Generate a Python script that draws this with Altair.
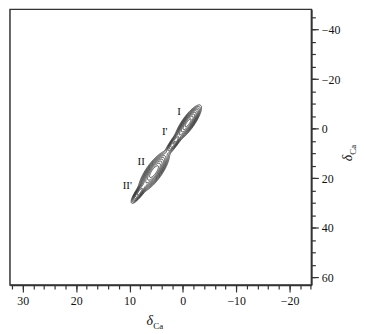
import numpy as np
import pandas as pd
import altair as alt

# ---- data -------------------------------------------------------------
# ridge end points of the diagonal cross-peak chain (data units)
ridge_x = [9.7, -3.2]
ridge_y = [30.4, -9.2]

# peaks of the contour map
peak_names = ["II'", "II", "I'", "I"]
peak_x = [8.2, 5.4, 1.7, -1.0]
peak_y = [25.8, 17.3, 5.8, -2.4]
peak_amp = [0.5, 1.0, 0.45, 0.9]
peak_sig_along = [6.0, 10.0, 6.0, 9.0]
peak_sig_across = [1.7, 3.3, 1.8, 2.6]
contour_levels = [0.05, 0.08, 0.12, 0.17, 0.24, 0.33, 0.45, 0.6, 0.78]

# peak labels
label_text = ["I", "I'", "II", "II'"]
label_x = [0.7, 3.4, 7.8, 10.4]
label_y = [-6.8, 1.2, 13.6, 23.2]

# axes
x_domain = [-24.1, 32.4]
y_domain = [-48.2, 63.1]
x_major = [30, 20, 10, 0, -10, -20]
x_minor = list(range(-24, 33, 2))
y_major = [-40, -20, 0, 20, 40, 60]
y_minor = list(range(-45, 64, 5))

W, H = 304, 278
KX = W / (x_domain[1] - x_domain[0])
KY = H / (y_domain[1] - y_domain[0])

# ---- contour field ------------------------------------------------------
dXr = -(ridge_x[1] - ridge_x[0]) * KX
dYr = (ridge_y[1] - ridge_y[0]) * KY
L = np.hypot(dXr, dYr)
ux, uy = dXr / L, dYr / L
nx_, ny_ = -uy, ux

xs = np.linspace(-6, 13, 200)
ys = np.linspace(-14, 36, 260)
XX, YY = np.meshgrid(xs, ys)
Z = np.zeros_like(XX)
for cx, cy, a, sa, sc in zip(peak_x, peak_y, peak_amp, peak_sig_along, peak_sig_across):
    dX = -(XX - cx) * KX
    dY = (YY - cy) * KY
    t = dX * ux + dY * uy
    s = dX * nx_ + dY * ny_
    Z += a * np.exp(-0.5 * ((t / sa) ** 2 + (s / sc) ** 2))

rows = []
for li, lev in enumerate(contour_levels):
    B = Z >= lev
    c = B[:-1, :-1].astype(int) + B[:-1, 1:] + B[1:, :-1] + B[1:, 1:]
    for i, j in np.argwhere((c > 0) & (c < 4)):
        corners = [(xs[j], ys[i], Z[i, j]), (xs[j + 1], ys[i], Z[i, j + 1]),
                   (xs[j + 1], ys[i + 1], Z[i + 1, j + 1]), (xs[j], ys[i + 1], Z[i + 1, j])]
        pts = []
        for k in range(4):
            xa, ya, za = corners[k]
            xb, yb, zb = corners[(k + 1) % 4]
            if (za >= lev) != (zb >= lev):
                f = (lev - za) / (zb - za)
                pts.append((xa + f * (xb - xa), ya + f * (yb - ya)))
        for p in range(0, len(pts) - 1, 2):
            rows.append(dict(x=pts[p][0], y=pts[p][1], x2=pts[p + 1][0], y2=pts[p + 1][1], level=li))
seg = pd.DataFrame(rows)

lab = pd.DataFrame({"t": label_text, "x": label_x, "y": label_y})

SERIF = "Liberation Serif, Times New Roman, Times, serif"
xscale = alt.Scale(domain=x_domain, reverse=True, nice=False, zero=False)
yscale = alt.Scale(domain=y_domain, reverse=True, nice=False, zero=False)

x_main_axis = alt.Axis(orient="bottom", values=x_major, tickSize=7, tickWidth=1.2, tickColor="#333",
                       domainColor="#333", domainWidth=1.5, labelFont=SERIF, labelFontSize=12,
                       labelColor="#111", labelPadding=4, grid=False, title=None, format="d")
y_main_axis = alt.Axis(orient="right", values=y_major, tickSize=7, tickWidth=1.2, tickColor="#333",
                       domainColor="#333", domainWidth=1.5, labelFont=SERIF, labelFontSize=12,
                       labelColor="#111", labelPadding=3, grid=False, title=None, format="d")
x_minor_axis = alt.Axis(orient="bottom", values=x_minor, tickSize=4, tickWidth=1.2, tickColor="#333",
                        domain=False, labels=False, grid=False, title=None)
y_minor_axis = alt.Axis(orient="right", values=y_minor, tickSize=4, tickWidth=1.2, tickColor="#333",
                        domain=False, labels=False, grid=False, title=None)

contours = alt.Chart(seg).mark_rule(color="#111", strokeWidth=0.8, opacity=0.9).encode(
    x=alt.X("x:Q", scale=xscale, axis=x_main_axis),
    y=alt.Y("y:Q", scale=yscale, axis=y_main_axis),
    x2="x2:Q",
    y2="y2:Q",
)

labels = alt.Chart(lab).mark_text(font=SERIF, fontSize=11, color="#111").encode(
    x=alt.X("x:Q", scale=xscale, axis=x_minor_axis),
    y=alt.Y("y:Q", scale=yscale, axis=y_minor_axis),
    text="t:N",
)

title_df = pd.DataFrame({"d": ["δ"], "s": ["Ca"]})
xt1 = alt.Chart(title_df).mark_text(font=SERIF, fontSize=14, fontStyle="italic", color="#111").encode(
    x=alt.value(141), y=alt.value(314), text="d:N")
xt2 = alt.Chart(title_df).mark_text(font=SERIF, fontSize=9, color="#111").encode(
    x=alt.value(149.5), y=alt.value(319), text="s:N")
yt1 = alt.Chart(title_df).mark_text(font=SERIF, fontSize=14, fontStyle="italic", color="#111", angle=270).encode(
    x=alt.value(341), y=alt.value(150), text="d:N")
yt2 = alt.Chart(title_df).mark_text(font=SERIF, fontSize=9, color="#111", angle=270).encode(
    x=alt.value(346), y=alt.value(141.5), text="s:N")

chart = alt.layer(contours, labels, xt1, xt2, yt1, yt2).resolve_axis(
    x="independent", y="independent"
).properties(
    width=W, height=H, padding={"left": 2, "top": 0, "right": 0, "bottom": 0}, background="white"
).configure_view(stroke="#333", strokeWidth=1.5)

chart.save("out.html", embed_options={"renderer": "svg", "actions": False})
